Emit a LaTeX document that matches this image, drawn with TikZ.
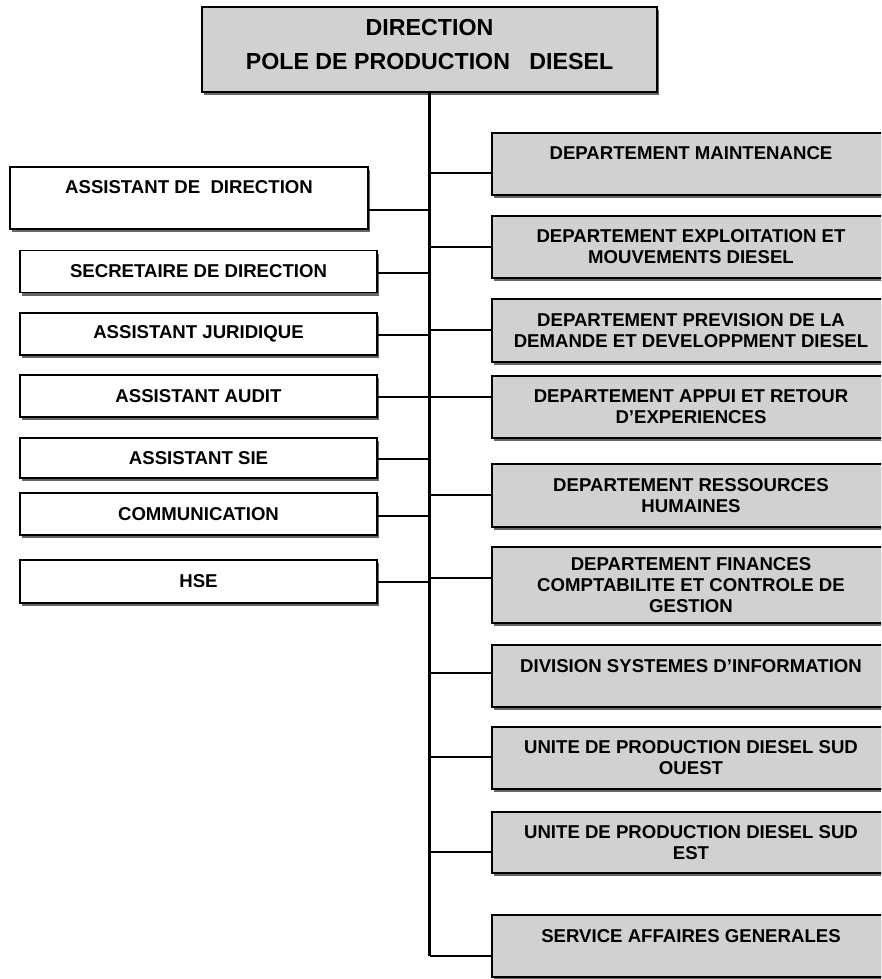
\documentclass[tikz,border=0pt]{standalone}
\usepackage{fontspec}
\setmainfont{Liberation Sans}
\usetikzlibrary{shadows}
\tikzset{
  boxbase/.style={draw=black, line width=1.6pt, inner sep=0pt, align=center,
    font=\fontsize{18.6}{21}\selectfont\bfseries,
    drop shadow={shadow xshift=2pt, shadow yshift=-3pt, fill=black!75, opacity=0.8}},
  rbox/.style={boxbase, fill=black!18, minimum width=398pt, minimum height=62pt},
  lbox/.style={boxbase, fill=white, minimum width=357pt, minimum height=42pt},
  topbox/.style={boxbase, fill=black!18, minimum width=455pt, minimum height=85pt,
    font=\fontsize{23.2}{34}\selectfont\bfseries},
  trunkline/.style={line width=3pt},
  conn/.style={line width=2.4pt},
}
\begin{document}
\begin{tikzpicture}[x=1pt,y=-1pt]
\clip (0,0) rectangle (881,979);
\fill[white] (0,0) rectangle (881,979);
% top
\node[topbox, text depth=10pt] (top) at (429.5,49.5) {DIRECTION\\POLE DE PRODUCTION\ \ \ DIESEL};
% left boxes
\node[lbox, minimum width=358pt, minimum height=62pt] (adir) at (189,198) {ASSISTANT DE\ \ DIRECTION\\\mbox{}};
\node[lbox] (sec) at (198.5,271.5) {SECRETAIRE DE DIRECTION};
\node[lbox] (jur) at (198.5,334) {ASSISTANT JURIDIQUE};
\node[lbox] (aud) at (198.5,396) {ASSISTANT AUDIT};
\node[lbox, minimum height=40pt] (sie) at (198.5,458) {ASSISTANT SIE};
\node[lbox] (com) at (198.5,514) {COMMUNICATION};
\node[lbox, minimum height=43pt] (hse) at (198.5,581.5) {HSE};
% right boxes
\node[rbox] (mai) at (691,164) {DEPARTEMENT MAINTENANCE\\\mbox{}};
\node[rbox] (exp) at (691,247) {DEPARTEMENT EXPLOITATION ET\\MOUVEMENTS DIESEL};
\node[rbox, minimum height=63pt] (pre) at (691,330.5) {DEPARTEMENT PREVISION DE LA\\DEMANDE ET DEVELOPPMENT DIESEL};
\node[rbox] (app) at (691,407) {DEPARTEMENT APPUI ET RETOUR\\D'EXPERIENCES};
\node[rbox, minimum height=63pt] (rh) at (691,495.5) {DEPARTEMENT RESSOURCES\\HUMAINES};
\node[rbox, minimum height=76pt] (fin) at (691,585) {DEPARTEMENT FINANCES\\COMPTABILITE ET CONTROLE DE\\GESTION};
\node[rbox] (div) at (691,676) {DIVISION SYSTEMES D'INFORMATION\\\mbox{}};
\node[rbox] (suo) at (691,758) {UNITE DE PRODUCTION DIESEL SUD\\OUEST};
\node[rbox, minimum height=61pt] (sue) at (691,842.5) {UNITE DE PRODUCTION DIESEL SUD\\EST};
\node[rbox] (svc) at (691,946) {SERVICE AFFAIRES GENERALES\\\mbox{}};
% connector attachment points
\coordinate (cadir) at ([yshift=-12pt]adir.east);
\coordinate (csec) at ([yshift=-1.5pt]sec.east);
\coordinate (cjur) at ([yshift=-1pt]jur.east);
\coordinate (caud) at ([yshift=-1pt]aud.east);
\coordinate (csie) at ([yshift=-1pt]sie.east);
\coordinate (ccom) at ([yshift=-2pt]com.east);
\coordinate (chse) at ([yshift=-0.5pt]hse.east);
\coordinate (cmai) at ([yshift=-9pt]mai.west);
\coordinate (cexp) at (exp.west);
\coordinate (cpre) at ([yshift=0.5pt]pre.west);
\coordinate (capp) at ([yshift=10pt]app.west);
\coordinate (crh) at ([yshift=0.5pt]rh.west);
\coordinate (cfin) at ([yshift=7pt]fin.west);
\coordinate (cdiv) at ([yshift=3pt]div.west);
\coordinate (csuo) at ([yshift=1pt]suo.west);
\coordinate (csue) at ([yshift=-9.5pt]sue.west);
\coordinate (csvc) at ([yshift=-10pt]svc.west);
% trunk
\draw[trunkline] (top.south) -- (top.south |- csvc);
% branches
\foreach \c in {cadir,csec,cjur,caud,csie,ccom,chse,cmai,cexp,cpre,capp,crh,cfin,cdiv,csuo,csue,csvc}
  \draw[conn] (\c) -- (\c -| top.south);
\end{tikzpicture}
\end{document}
